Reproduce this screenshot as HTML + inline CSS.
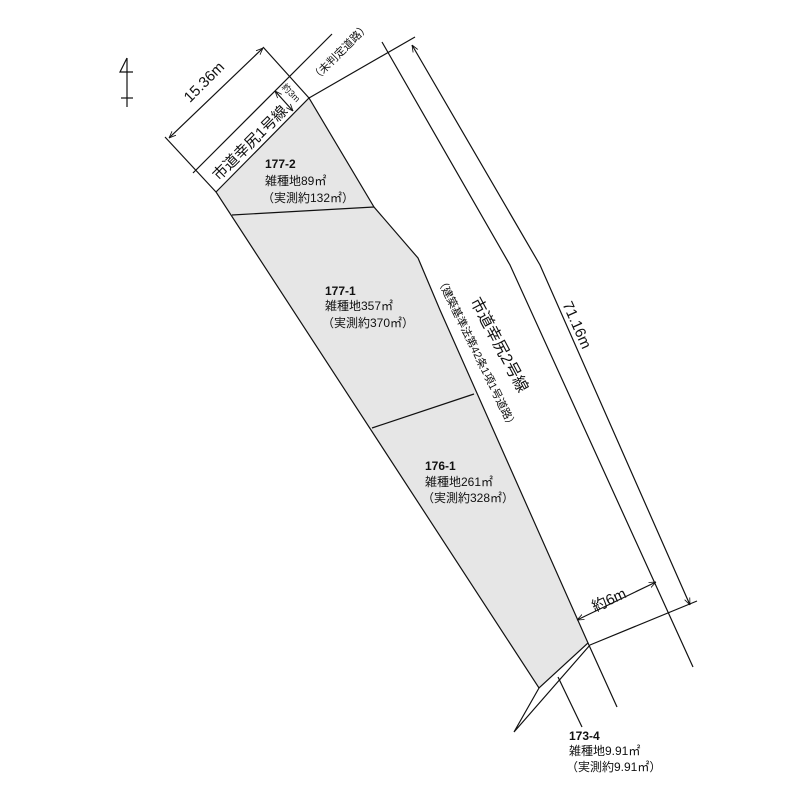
<!DOCTYPE html>
<html><head><meta charset="utf-8"><style>
html,body{margin:0;padding:0;background:#fff}
svg text{font-family:"Liberation Sans","Noto Sans CJK JP",sans-serif;fill:#111}
</style></head><body>
<svg width="800" height="800" viewBox="0 0 800 800" xmlns="http://www.w3.org/2000/svg">
<defs>
<marker id="a" viewBox="0 0 10 10" refX="10" refY="5" markerWidth="7" markerHeight="7" orient="auto-start-reverse" markerUnits="userSpaceOnUse"><path d="M0,1 L10,5 L0,9" fill="none" stroke="#111" stroke-width="1.2"/></marker>
</defs>
<g stroke="#111" stroke-width="1.2" fill="none">
<path d="M216,192 L309,98 L374,207 L418,258 L440,310 L588,643 L539,688 Z" fill="#e6e6e6"/>
<line x1="232" y1="215" x2="374" y2="207"/>
<line x1="372" y1="428" x2="474" y2="394"/>
<path d="M539,688 L514,732 L590,645"/>
<line x1="558" y1="677" x2="582" y2="727"/>
<line x1="588" y1="643" x2="617" y2="707"/>
<polyline points="382,42 510,265 693,667"/>
<line x1="309" y1="98" x2="415" y2="37"/>
<line x1="590" y1="645" x2="697" y2="601"/>
<polyline points="412,45 540,265 690,605" marker-start="url(#a)" marker-end="url(#a)"/>
<line x1="577" y1="620" x2="656" y2="582" marker-start="url(#a)" marker-end="url(#a)"/>
<line x1="193" y1="173" x2="332" y2="34"/>
<line x1="165" y1="137" x2="216" y2="192"/>
<line x1="263" y1="47" x2="309" y2="98"/>
<line x1="169" y1="138" x2="263" y2="48" marker-start="url(#a)" marker-end="url(#a)"/>
<line x1="275" y1="91" x2="293" y2="111" marker-start="url(#a)" marker-end="url(#a)"/>
<line x1="127" y1="58" x2="127" y2="107"/>
<polyline points="127,58 120,72 133,72"/>
<line x1="121" y1="98" x2="133" y2="98"/>
</g>
<g font-size="12">
<text x="265" y="168" font-weight="bold">177-2</text>
<text x="265" y="185">雑種地89㎡</text>
<text x="262" y="202">（実測約132㎡）</text>
<text x="325" y="295" font-weight="bold">177-1</text>
<text x="325" y="310">雑種地357㎡</text>
<text x="322" y="327">（実測約370㎡）</text>
<text x="425" y="470" font-weight="bold">176-1</text>
<text x="425" y="486">雑種地261㎡</text>
<text x="422" y="502">（実測約328㎡）</text>
<text x="569" y="740" font-weight="bold">173-4</text>
<text x="569" y="755">雑種地9.91㎡</text>
<text x="566" y="771">（実測約9.91㎡）</text>
</g>
<text x="204" y="87" font-size="15" text-anchor="middle" transform="rotate(-45 204 82)">15.36m</text>
<text x="250" y="148" font-size="15" text-anchor="middle" transform="rotate(-45 250 143)">市道幸尻1号線</text>
<text x="291" y="96" font-size="9" text-anchor="middle" transform="rotate(45 291 93)">約3m</text>
<text x="340" y="56" font-size="11" text-anchor="middle" transform="rotate(-45 340 52)">（未判定道路）</text>
<text x="499" y="350" font-size="16" text-anchor="middle" transform="rotate(62 499 345)">市道幸尻2号線</text>
<text x="477" y="357" font-size="11" text-anchor="middle" transform="rotate(64 477 353)">（建築基準法第42条1項1号道路）</text>
<text x="577" y="330" font-size="15" text-anchor="middle" transform="rotate(66 577 325)">71.16m</text>
<text x="609" y="605" font-size="15" text-anchor="middle" transform="rotate(-25 609 600)">約6m</text>
</svg>
</body></html>
